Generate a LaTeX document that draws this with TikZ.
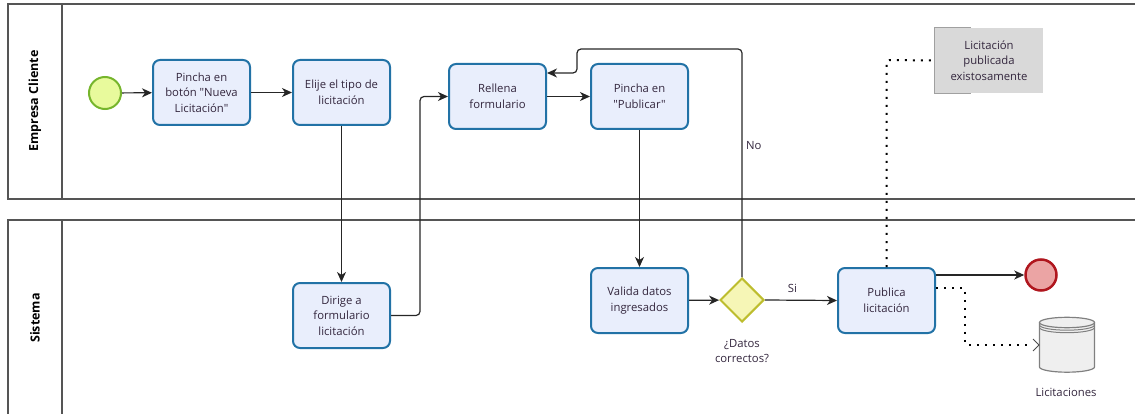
\documentclass[tikz,border=0pt]{standalone}
\usepackage{fontspec}
\setmainfont{Open Sans}[Ligatures=TeXOff]
\usetikzlibrary{arrows.meta,shapes.geometric}
\definecolor{taskfill}{HTML}{E9EEFC}
\definecolor{taskdraw}{HTML}{2272A6}
\definecolor{txt}{HTML}{33263D}
\definecolor{poolline}{HTML}{555555}
\definecolor{startfill}{HTML}{E8FA9C}
\definecolor{startdraw}{HTML}{76B52C}
\definecolor{endfill}{HTML}{EBA4A4}
\definecolor{enddraw}{HTML}{B0161E}
\definecolor{gwfill}{HTML}{F6F6B6}
\definecolor{gwdraw}{HTML}{BDBD2E}
\definecolor{annfill}{HTML}{D9D9D9}
\definecolor{anndraw}{HTML}{A0A0A0}
\definecolor{dsfill}{HTML}{EFEFEF}
\definecolor{dsdraw}{HTML}{808080}
\tikzset{
  task/.style={rectangle, rounded corners=7pt, draw=taskdraw, line width=2pt,
    fill=taskfill, minimum width=97pt, minimum height=65pt, align=center,
    inner sep=2pt, font=\fontsize{11.3}{15.5}\selectfont, text=txt},
  startev/.style={circle, draw=startdraw, fill=startfill, line width=2pt, minimum size=32pt, inner sep=0pt},
  endev/.style={circle, draw=enddraw, fill=endfill, line width=2.5pt, minimum size=31pt, inner sep=0pt},
  gateway/.style={diamond, draw=gwdraw, fill=gwfill, line width=2pt, minimum size=44pt, inner sep=0pt},
  flow/.style={draw=black!85, line width=1.2pt, rounded corners=4pt,
    -{Stealth[length=10pt,width=9pt,inset=3pt]}},
  assoc/.style={draw=black, line width=2pt, dash pattern=on 2pt off 6pt, rounded corners=3pt},
  lbl/.style={font=\fontsize{11.3}{15.5}\selectfont, text=txt, align=center, inner sep=1pt},
  poolframe/.style={draw=poolline, line width=1.5pt},
  pooltitle/.style={font=\fontsize{12.5}{15}\selectfont\bfseries, rotate=90, text=black}
}
\begin{document}
\begin{tikzpicture}[x=1pt,y=-1pt]
\useasboundingbox (0,0) rectangle (1135,414);
\clip (0,0) rectangle (1135,414);

% pools
\draw[poolframe] (8,4) rectangle (1145,199);
\draw[poolframe] (62,4) -- (62,199);
\draw[poolframe] (8,425) -- (8,220) -- (1145,220);
\draw[poolframe] (62,220) -- (62,425);
\node[pooltitle] (p1) at (35,101) {Empresa Cliente};
\node[pooltitle] (p2) at (35,318) {Sistema};

% nodes
\node[startev] (start) at (105,93) {};
\node[task] (t1) at (201.5,92.5) {Pincha en\\botón "Nueva\\Licitación"};
\node[task] (t2) at (341.5,92.5) {Elije el tipo de\\licitación};
\node[task] (t3) at (497.5,96.5) {Rellena\\formulario};
\node[task] (t4) at (639.5,96.5) {Pincha en\\"Publicar"};
\node[task] (t5) at (341.5,315.5) {Dirige a\\formulario\\licitación};
\node[task] (t6) at (639.5,300.5) {Valida datos\\ingresados};
\node[gateway] (gw) at (742,300) {};
\node[lbl] (gwl) at (742,351) {¿Datos\\correctos?};
\node[task] (t7) at (886.5,300.5) {Publica\\licitación};
\node[endev] (end) at (1041,275) {};

% annotation
\node[rectangle, fill=annfill, minimum width=108pt, minimum height=65pt,
  align=center, font=\fontsize{11.3}{15.5}\selectfont, text=txt, inner sep=0pt] (ann) at (989,60.5)
  {Licitación\\publicada\\existosamente};
\draw[anndraw, line width=1.2pt] ([xshift=36pt]ann.north west) -- (ann.north west) -- (ann.south west) -- ([xshift=36pt]ann.south west);

% data store
\node[minimum width=55pt, minimum height=56pt, inner sep=0pt] (ds) at (1067,345) {};
\fill[dsfill] (1039.5,322.5) -- (1039.5,367) arc[start angle=180, end angle=360, x radius=27.5, y radius=-5.2] -- (1094.5,322.5) arc[start angle=0, end angle=180, x radius=27.5, y radius=-5.2] -- cycle;
\draw[dsdraw, line width=1.2pt] (1039.5,322.5) -- (1039.5,367) arc[start angle=180, end angle=360, x radius=27.5, y radius=-5.2] -- (1094.5,322.5);
\draw[dsdraw, line width=1.2pt] (1067,322.5) ellipse[x radius=27.5, y radius=5.2];
\draw[dsdraw, line width=1.0pt] (1039.5,325) arc[start angle=180, end angle=360, x radius=27.5, y radius=-5.2];
\draw[dsdraw, line width=1.0pt] (1039.5,327.5) arc[start angle=180, end angle=360, x radius=27.5, y radius=-5.2];
\node[lbl] (dsl) at (1066,392) {Licitaciones};

% sequence flows
\draw[flow] (start) -- (t1);
\draw[flow] (t1) -- (t2);
\draw[flow] (t2) -- (t5);
\draw[flow] (t5.east) -- ++(29,0) |- (t3.west);
\draw[flow] (t3) -- (t4);
\draw[flow] (t4) -- (t6);
\draw[flow] (t6) -- (gw);
\draw[flow] (gw.north) -- (742,49) -- (577,49) -- (577,73) -- ([yshift=23.5pt]t3.east);
\node[lbl, anchor=west] (nol) at (745,146) {No};
\draw[flow] (gw.east) -- node[lbl, pos=0.38, above=6pt] (sil) {Si} (t7.west);
\draw[flow] ([yshift=25.5pt]t7.east) -- (end.west);

% associations
\draw[assoc] (t7.north) -- (886.5,60) -- (ann.west);
\draw[assoc] ([yshift=13pt]t7.east) -- (965,287.5) -- (965,345) -- (1032,345);
\draw[black!70, line width=1pt] (1033,339) -- (1039,345) -- (1033,351);
\end{tikzpicture}
\end{document}
